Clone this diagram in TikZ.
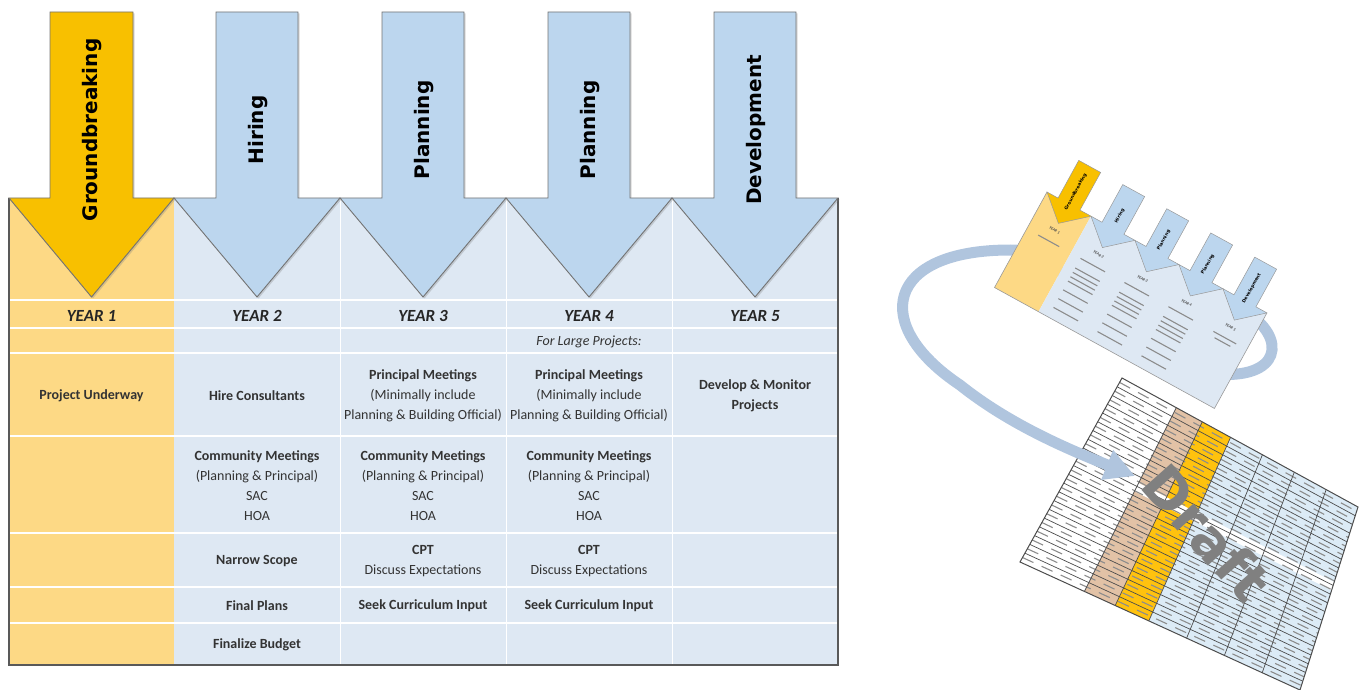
\documentclass[tikz,border=0pt]{standalone}
\usepackage{fontspec}
\setmainfont{Carlito}
\newfontfamily\phasefont{DejaVu Sans}
\usetikzlibrary{arrows.meta,calc,shadows}

\definecolor{gold}{HTML}{F8C000}
\definecolor{goldlight}{HTML}{FDD985}
\definecolor{skyarrow}{HTML}{BCD6EE}
\definecolor{skylight}{HTML}{DEE8F3}
\definecolor{ribbonblue}{HTML}{B0C5DE}
\definecolor{sheettan}{HTML}{E2C2A6}
\definecolor{sheetgold}{HTML}{FFC20E}
\definecolor{sheetblue}{HTML}{DCEBF6}

\tikzset{
  phasearrow/.style={draw=black!55, line width=0.9pt, line join=miter,
    drop shadow={shadow xshift=1.5pt, shadow yshift=-1.5pt, opacity=0.3}},
  phase/.style={rotate=90, font=\phasefont\bfseries\fontsize{20}{24}\selectfont},
  yearlabel/.style={font=\fontsize{17}{20}\selectfont\bfseries\itshape, text=black!85},
  cell/.style={align=center, font=\fontsize{14}{20}\selectfont, text=black!80},
  rowline/.style={white, line width=1.2pt},
  miniarrow/.style={draw=black!40, line width=0.5pt},
  miniphase/.style={rotate=90, transform shape, font=\phasefont\bfseries\fontsize{4.5}{5}\selectfont},
  miniyear/.style={transform shape, font=\fontsize{4}{5}\selectfont\bfseries\itshape, text=black!70},
  smudge/.style={black!45, line width=1.1pt},
  sheetline/.style={black!70, line width=0.7pt},
  ribbonarrow/.style={draw=ribbonblue, line width=11pt, -{Triangle[width=30pt,length=30pt]}},
  draftmark/.style={rotate=-48.4, font=\phasefont\bfseries\fontsize{55}{60}\selectfont, text=black!50}
}

\begin{document}
\begin{tikzpicture}[x=1pt, y=-1pt, inner sep=1pt]
  \useasboundingbox (0,0) rectangle (1361,690);
  % table
  \fill[goldlight] (9,198) rectangle (174,665); % year 1 column
  \fill[skylight] (174,198) rectangle (838,665); % years 2 to 5
  \foreach \y in {300,328,353,436,533,587,623} \draw[rowline] (9,\y) -- (838,\y); % row lines
  \foreach \x in {340,506,672} \draw[rowline, line width=0.8pt] (\x,198) -- (\x,665); % column lines
  \draw[black!65, line width=1.2pt] (9,198) -- (9,665) -- (838,665) -- (838,198); % frame
  % phase arrows
  \draw[phasearrow, fill=gold] (50,12) -- (133,12) -- (133,198) -- (174,198) -- (91.5,297) -- (9,198) -- (50,198) -- cycle; % groundbreaking
  \draw[phasearrow, fill=skyarrow] (216,12) -- (298,12) -- (298,198) -- (340,198) -- (257,297) -- (174,198) -- (216,198) -- cycle; % hiring
  \draw[phasearrow, fill=skyarrow] (382,12) -- (464,12) -- (464,198) -- (506,198) -- (423,297) -- (340,198) -- (382,198) -- cycle; % planning
  \draw[phasearrow, fill=skyarrow] (548,12) -- (630,12) -- (630,198) -- (672,198) -- (589,297) -- (506,198) -- (548,198) -- cycle; % planning
  \draw[phasearrow, fill=skyarrow] (714,12) -- (796,12) -- (796,198) -- (838,198) -- (755,297) -- (672,198) -- (714,198) -- cycle; % development
  \node[phase] (gb) at (92,130) {Groundbreaking};
  \node[phase] (hir) at (258,130) {Hiring};
  \node[phase] (pl3) at (424,130) {Planning};
  \node[phase] (pl4) at (590,130) {Planning};
  \node[phase] (dev) at (756,130) {Development};
  % years
  \node[yearlabel] (yr1) at (91.5,316) {YEAR 1};
  \node[yearlabel] (yr2) at (257,316) {YEAR 2};
  \node[yearlabel] (yr3) at (423,316) {YEAR 3};
  \node[yearlabel] (yr4) at (589,316) {YEAR 4};
  \node[yearlabel] (yr5) at (755,316) {YEAR 5};
  \node[cell, font=\fontsize{14}{16}\selectfont\itshape] (large) at (589,342) {For Large Projects:};
  % tasks
  \node[cell] (c1a) at (91.5,396) {\textbf{Project Underway}};
  \node[cell] (c2a) at (257,396) {\textbf{Hire Consultants}};
  \node[cell] (c3a) at (423,396) {\textbf{Principal Meetings}\\(Minimally include\\Planning \& Building Official)};
  \node[cell] (c4a) at (589,396) {\textbf{Principal Meetings}\\(Minimally include\\Planning \& Building Official)};
  \node[cell] (c5a) at (755,396) {\textbf{Develop \& Monitor}\\\textbf{Projects}};
  \node[cell] (c2b) at (257,486) {\textbf{Community Meetings}\\(Planning \& Principal)\\SAC\\HOA};
  \node[cell] (c3b) at (423,486) {\textbf{Community Meetings}\\(Planning \& Principal)\\SAC\\HOA};
  \node[cell] (c4b) at (589,486) {\textbf{Community Meetings}\\(Planning \& Principal)\\SAC\\HOA};
  \node[cell] (c2c) at (257,561) {\textbf{Narrow Scope}};
  \node[cell] (c3c) at (423,561) {\textbf{CPT}\\Discuss Expectations};
  \node[cell] (c4c) at (589,561) {\textbf{CPT}\\Discuss Expectations};
  \node[cell] (c2d) at (257,606) {\textbf{Final Plans}};
  \node[cell] (c3d) at (423,606) {\textbf{Seek Curriculum Input}};
  \node[cell] (c4d) at (589,606) {\textbf{Seek Curriculum Input}};
  \node[cell] (c2e) at (257,645) {\textbf{Finalize Budget}};

  % budget sheet
  \coordinate (sTL) at (1122,378);
  \coordinate (sTR) at (1358,507);
  \coordinate (sBR) at (1300,690);
  \coordinate (sBL) at (1020,562);
  \fill[white] (sTL) -- (sTR) -- (sBR) -- (sBL) -- cycle;
  \fill[sheettan] ($(sTL)!0.23!(sTR)$) -- ($(sTL)!0.34!(sTR)$) -- ($(sBL)!0.34!(sBR)$) -- ($(sBL)!0.23!(sBR)$) -- cycle; % tan column
  \fill[sheetgold] ($(sTL)!0.34!(sTR)$) -- ($(sTL)!0.46!(sTR)$) -- ($(sBL)!0.46!(sBR)$) -- ($(sBL)!0.34!(sBR)$) -- cycle; % gold column
  \fill[sheetblue] ($(sTL)!0.46!(sTR)$) -- (sTR) -- (sBR) -- ($(sBL)!0.46!(sBR)$) -- cycle; % blue columns
  \fill[white] ($(sTL)!0.41!(sBL)$) -- ($(sTR)!0.41!(sBR)$) -- ($(sTR)!0.455!(sBR)$) -- ($(sTL)!0.455!(sBL)$) -- cycle; % gap row
  \foreach \v in {0.0238,0.0714,...,0.99} \draw[smudge, dash pattern=on 12pt off 9pt] ($(sTL)!\v!(sBL)$) -- ($(sTR)!\v!(sBR)$); % figures
  \foreach \v in {0.0476,0.0952,...,0.97} \draw[sheetline] ($(sTL)!\v!(sBL)$) -- ($(sTR)!\v!(sBR)$); % rows
  \foreach \u in {0.23,0.34,0.46,0.595,0.73,0.865} \draw[sheetline] ($(sTL)!\u!(sTR)$) -- ($(sBL)!\u!(sBR)$); % columns
  \draw[black!70, line width=1pt] (sTL) -- (sTR) -- (sBR) -- (sBL) -- cycle;

  % ribbon from timeline to sheet
  \coordinate (rstart) at (1252,316);
  \coordinate (rend) at (1135,476);
  \draw[ribbonarrow] (rstart) .. controls (1290,345) and (1275,385) .. (1200,372) .. controls (1120,358) and (1070,248) .. (1010,250) .. controls (885,250) and (870,325) .. (960,385) .. controls (1010,425) and (1070,450) .. (rend);

  % thumbnail of the timeline
  \begin{scope}[shift={(1047,192)}, rotate=-28.8]
    \fill[goldlight] (0,0) rectangle (50.2,109);
    \fill[skylight] (50.2,0) rectangle (251,109);
    \draw[black!40, line width=0.6pt] (0,0) -- (0,109) -- (251,109) -- (251,0);
    \draw[miniarrow, fill=gold] (12.6,-43) -- (37.6,-43) -- (37.6,0) -- (50.2,0) -- (25.1,22) -- (0,0) -- (12.6,0) -- cycle;
    \foreach \c in {75.3,125.5,175.7,225.9} \draw[miniarrow, fill=skyarrow] (\c-12.5,-43) -- (\c+12.5,-43) -- (\c+12.5,0) -- (\c+25.1,0) -- (\c,22) -- (\c-25.1,0) -- (\c-12.5,0) -- cycle;
    \node[miniphase] (tgb) at (25.1,-14) {Groundbreaking};
    \node[miniphase] (thir) at (75.3,-14) {Hiring};
    \node[miniphase] (tpl3) at (125.5,-14) {Planning};
    \node[miniphase] (tpl4) at (175.7,-14) {Planning};
    \node[miniphase] (tdev) at (225.9,-14) {Development};
    \node[miniyear] (tyr1) at (25.1,30) {YEAR 1};
    \node[miniyear] (tyr2) at (75.3,30) {YEAR 2};
    \node[miniyear] (tyr3) at (125.5,30) {YEAR 3};
    \node[miniyear] (tyr4) at (175.7,30) {YEAR 4};
    \node[miniyear] (tyr5) at (225.9,30) {YEAR 5};
    \draw[smudge] (13,42) -- (37,42); % year 1 text
    \foreach \c in {75.3,125.5,175.7} \foreach \y in {42,53,58,63,68,78,88,98} \draw[smudge] (\c-14,\y) -- (\c+14,\y); % years 2 to 4 text
    \draw[smudge] (213,42) -- (239,42); % year 5 text
    \draw[smudge] (217,47) -- (235,47);
  \end{scope}

  % watermark
  \node[draftmark] (draft) at (1207,533) {Draft};
\end{tikzpicture}
\end{document}
